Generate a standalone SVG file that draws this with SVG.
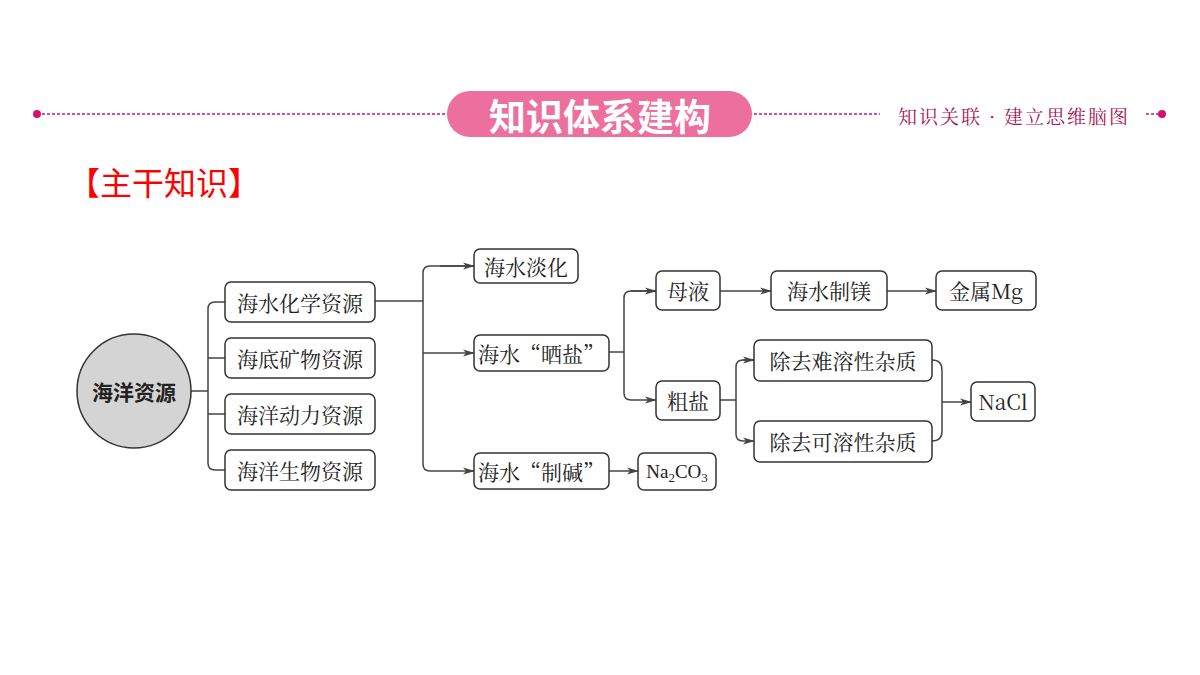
<svg xmlns="http://www.w3.org/2000/svg" width="1200" height="675" viewBox="0 0 1200 675">
<style>
.b{fill:#fff;stroke:#333;stroke-width:1.5}
.t{font-family:"Noto Serif CJK SC","Liberation Serif","Noto Sans CJK SC",serif;font-size:21px;fill:#222;text-anchor:middle;dominant-baseline:central}
.c{fill:none;stroke:#444;stroke-width:1.5}
</style>
<defs><marker id="a" markerWidth="12" markerHeight="8" refX="11" refY="4" orient="auto" markerUnits="userSpaceOnUse"><path d="M0,0.5 L12,4 L0,7.5 L3,4 Z" fill="#444"/></marker></defs>
<rect width="1200" height="675" fill="#fff"/>
<g id="header">
<line x1="37" y1="114" x2="447" y2="114" stroke="#c0186a" stroke-width="1.5" stroke-dasharray="3,2"/>
<line x1="754" y1="114" x2="880" y2="114" stroke="#c0186a" stroke-width="1.5" stroke-dasharray="3,2"/>
<line x1="1146" y1="114" x2="1162" y2="114" stroke="#c0186a" stroke-width="1.5" stroke-dasharray="3,2"/>
<circle cx="37" cy="114" r="4" fill="#d8106a"/><circle cx="1162" cy="114" r="4" fill="#d8106a"/>
<rect x="447" y="91" width="305" height="46" rx="23" fill="#ec6f9e"/>
<text x="600" y="115" font-family="Noto Sans CJK SC,sans-serif" font-weight="bold" font-size="37" fill="#fff" text-anchor="middle" dominant-baseline="central">知识体系建构</text>
<text x="1014" y="115" font-family="Noto Serif CJK SC,Noto Sans CJK SC,serif" font-size="19" letter-spacing="2" fill="#a8145a" text-anchor="middle" dominant-baseline="central">知识关联 · 建立思维脑图</text>
<text x="68" y="181" font-family="Noto Sans CJK SC,sans-serif" font-size="32" fill="#f00" dominant-baseline="central">【主干知识】</text>
</g>
<g id="connectors">
<path class="c" d="M191,391 H208 M225,302 H215 Q208,302 208,309 V463 Q208,470 215,470 H225 M208,358 H225 M208,414 H225"/>
<path class="c" d="M375,301 H423"/>
<path class="c" d="M474,266 H430 Q423,266 423,273 V464 Q423,471 430,471" /><path class="c" d="M430,471 H474" marker-end="url(#a)"/>
<path class="c" d="M440,266 H474" marker-end="url(#a)"/>
<path class="c" d="M423,353 H474" marker-end="url(#a)"/>
<path class="c" d="M609,352 H624 M656,291 H631 Q624,291 624,298 V393 Q624,400 631,400"/>
<path class="c" d="M631,291 H656" marker-end="url(#a)"/><path class="c" d="M631,400 H656" marker-end="url(#a)"/>
<path class="c" d="M720,291 H771" marker-end="url(#a)"/>
<path class="c" d="M887,291 H936" marker-end="url(#a)"/>
<path class="c" d="M720,400 H736 M754,360 H743 Q736,360 736,367 V434 Q736,441 743,441"/>
<path class="c" d="M743,360 H754" marker-end="url(#a)"/><path class="c" d="M743,441 H754" marker-end="url(#a)"/>
<path class="c" d="M932,360 Q942,360 942,370 V431 Q942,441 932,441"/>
<path class="c" d="M942,402 H971" marker-end="url(#a)"/>
<path class="c" d="M609,471 H638" marker-end="url(#a)"/>
</g>
<g id="n0"><circle cx="134" cy="391" r="57" fill="#d4d4d4" stroke="#333" stroke-width="1.5"/><text x="134" y="391" class="t" font-weight="bold" style="font-family:'Noto Sans CJK SC',sans-serif">海洋资源</text></g>
<g id="n1"><rect class="b" x="225" y="282" width="150" height="40" rx="6"/><text class="t" x="300" y="302">海水化学资源</text></g>
<g id="n2"><rect class="b" x="225" y="338" width="150" height="40" rx="6"/><text class="t" x="300" y="358">海底矿物资源</text></g>
<g id="n3"><rect class="b" x="225" y="394" width="150" height="40" rx="6"/><text class="t" x="300" y="414">海洋动力资源</text></g>
<g id="n4"><rect class="b" x="225" y="450" width="150" height="40" rx="6"/><text class="t" x="300" y="470">海洋生物资源</text></g>
<g id="n5"><rect class="b" x="474" y="249" width="104" height="34" rx="6"/><text class="t" x="526" y="266">海水淡化</text></g>
<g id="n6"><rect class="b" x="474" y="335" width="135" height="36" rx="6"/><text class="t" x="541" y="353">海水“晒盐”</text></g>
<g id="n7"><rect class="b" x="474" y="453" width="135" height="36" rx="6"/><text class="t" x="541" y="471">海水“制碱”</text></g>
<g id="n8"><rect class="b" x="656" y="271" width="64" height="39" rx="6"/><text class="t" x="688" y="290">母液</text></g>
<g id="n9"><rect class="b" x="771" y="271" width="116" height="39" rx="6"/><text class="t" x="829" y="290">海水制镁</text></g>
<g id="n10"><rect class="b" x="936" y="271" width="100" height="39" rx="6"/><text class="t" x="986" y="290">金属Mg</text></g>
<g id="n11"><rect class="b" x="656" y="381" width="64" height="39" rx="6"/><text class="t" x="688" y="400">粗盐</text></g>
<g id="n12"><rect class="b" x="754" y="340" width="178" height="41" rx="6"/><text class="t" x="843" y="360">除去难溶性杂质</text></g>
<g id="n13"><rect class="b" x="754" y="421" width="178" height="41" rx="6"/><text class="t" x="843" y="441">除去可溶性杂质</text></g>
<g id="n14"><rect class="b" x="971" y="382" width="64" height="39" rx="6"/><text class="t" x="1003" y="401">NaCl</text></g>
<g id="n15"><rect class="b" x="638" y="453" width="78" height="37" rx="6"/><text x="677" y="478" text-anchor="middle" font-family="Liberation Serif,serif" font-size="19" fill="#222">Na<tspan font-size="13" dy="4">2</tspan><tspan dy="-4">CO</tspan><tspan font-size="13" dy="4">3</tspan></text></g>
</svg>
